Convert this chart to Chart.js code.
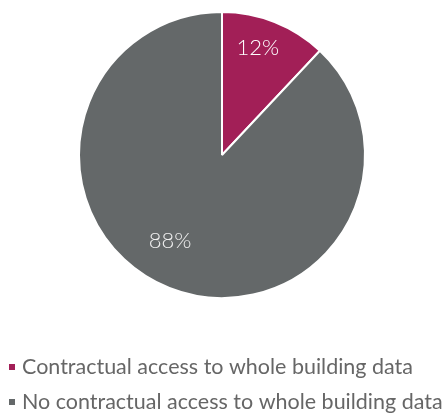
<!DOCTYPE html>
<html>
<head>
<meta charset="utf-8">
<script src="https://cdn.jsdelivr.net/npm/chart.js@4"></script>
<style>
html,body{margin:0;padding:0;background:#fff;}
#wrap{width:446px;height:414px;position:relative;}
</style>
</head>
<body>
<div id="wrap"><canvas id="c" width="446" height="414"></canvas></div>
<script>
const categories = ["Contractual access to whole building data", "No contractual access to whole building data"];
const values = [12, 88];
const valueLabels = ["12%", "88%"];
const colors = ["#A21F57", "#646869"];
const labelColors = ["#ffffff", "#f0f0f0"];
// where each value label sits: fraction along the slice's angle, fraction of radius
const labelAngleFrac = [0.426, 0.531];
const labelRadiusFrac = [0.796, 0.697];

const FONT = "Lato";

const labelsPlugin = {
  id: 'sliceLabels',
  afterDatasetsDraw(chart) {
    const ctx = chart.ctx;
    const meta = chart.getDatasetMeta(0);
    ctx.save();
    ctx.font = "300 22px " + FONT;
    ctx.textAlign = "center";
    ctx.textBaseline = "middle";
    meta.data.forEach((arc, i) => {
      const p = arc.getProps(['x','y','startAngle','endAngle','outerRadius'], true);
      const a = p.startAngle + (p.endAngle - p.startAngle) * labelAngleFrac[i];
      const r = p.outerRadius * labelRadiusFrac[i];
      ctx.fillStyle = labelColors[i];
      ctx.fillText(valueLabels[i], p.x + Math.cos(a) * r, p.y + Math.sin(a) * r + 1);
    });
    ctx.restore();
  }
};

const legendPlugin = {
  id: 'customLegend',
  afterDraw(chart) {
    const ctx = chart.ctx;
    ctx.save();
    // fit font size so first label spans ~391px
    let size = 18;
    ctx.font = "400 " + size + "px " + FONT;
    const w = ctx.measureText(categories[0]).width;
    size = size * 391 / w;
    ctx.font = "400 " + size.toFixed(2) + "px " + FONT;
    ctx.textBaseline = "middle";
    ctx.textAlign = "left";
    const rows = [367, 402];
    categories.forEach((c, i) => {
      ctx.fillStyle = colors[i];
      ctx.fillRect(9, rows[i] - 3, 6, 6);
      ctx.fillStyle = "#666666";
      ctx.fillText(c, 22, rows[i]);
    });
    ctx.restore();
  }
};

new Chart(document.getElementById('c'), {
  type: 'pie',
  data: {
    labels: categories,
    datasets: [{
      data: values,
      backgroundColor: colors,
      borderColor: "#ffffff",
      borderWidth: 2,
      hoverOffset: 0
    }]
  },
  options: {
    responsive: false,
    animation: false,
    rotation: 0,
    layout: { padding: { top: 11, bottom: 115, left: 0, right: 2 } },
    plugins: {
      legend: { display: false },
      tooltip: { enabled: false }
    }
  },
  plugins: [labelsPlugin, legendPlugin]
});
</script>
</body>
</html>
